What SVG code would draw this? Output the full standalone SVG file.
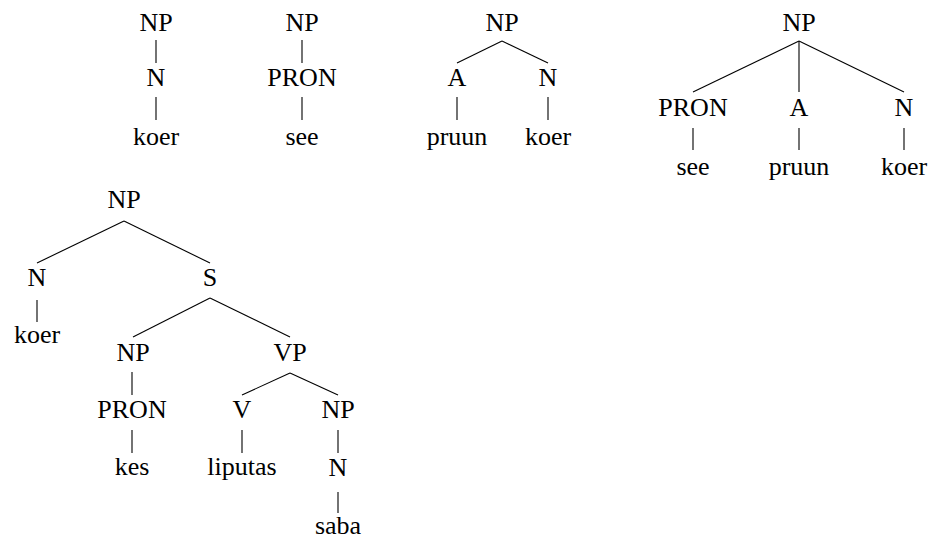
<svg xmlns="http://www.w3.org/2000/svg" width="932" height="539" viewBox="0 0 932 539">
  <rect width="932" height="539" fill="#fff"/>

  <!-- connectors for all five trees -->
  <g id="connectors" stroke="#000" stroke-width="1.1">
    <!-- tree 1 -->
    <line x1="156" y1="40" x2="156" y2="63"/>
    <line x1="156" y1="97" x2="156" y2="120"/>
    <!-- tree 2 -->
    <line x1="302" y1="40" x2="302" y2="63"/>
    <line x1="302" y1="97" x2="302" y2="120"/>
    <!-- tree 3 -->
    <line x1="502" y1="41" x2="457" y2="63"/>
    <line x1="502" y1="41" x2="548" y2="63"/>
    <line x1="457" y1="97" x2="457" y2="120"/>
    <line x1="548" y1="97" x2="548" y2="120"/>
    <!-- tree 4 -->
    <line x1="799" y1="41" x2="693" y2="92"/>
    <line x1="799" y1="41" x2="799" y2="92"/>
    <line x1="799" y1="41" x2="904" y2="92"/>
    <line x1="693" y1="128" x2="693" y2="150"/>
    <line x1="799" y1="128" x2="799" y2="150"/>
    <line x1="904" y1="128" x2="904" y2="150"/>
    <!-- tree 5 -->
    <line x1="124" y1="221" x2="37" y2="263"/>
    <line x1="124" y1="221" x2="210" y2="263"/>
    <line x1="37" y1="300" x2="37" y2="322"/>
    <line x1="210" y1="298" x2="133" y2="337"/>
    <line x1="210" y1="298" x2="290" y2="337"/>
    <line x1="132" y1="372" x2="132" y2="395"/>
    <line x1="290" y1="373" x2="242" y2="395"/>
    <line x1="290" y1="373" x2="338" y2="395"/>
    <line x1="132" y1="430" x2="132" y2="453"/>
    <line x1="242" y1="430" x2="242" y2="453"/>
    <line x1="338" y1="430" x2="338" y2="453"/>
    <line x1="338" y1="492" x2="338" y2="513"/>
  </g>

  <!-- tree 1: NP -> N -> koer -->
  <g id="t1-np"><text x="156" y="31" style="font-family:'Liberation Serif',serif;font-size:26px" text-anchor="middle">NP</text></g>
  <g id="t1-n"><text x="156" y="86" style="font-family:'Liberation Serif',serif;font-size:26px" text-anchor="middle">N</text></g>
  <g id="t1-koer"><text x="156" y="145" style="font-family:'Liberation Serif',serif;font-size:26px" text-anchor="middle">koer</text></g>

  <!-- tree 2: NP -> PRON -> see -->
  <g id="t2-np"><text x="302" y="31" style="font-family:'Liberation Serif',serif;font-size:26px" text-anchor="middle">NP</text></g>
  <g id="t2-pron"><text x="302" y="86" style="font-family:'Liberation Serif',serif;font-size:26px" text-anchor="middle">PRON</text></g>
  <g id="t2-see"><text x="302" y="145" style="font-family:'Liberation Serif',serif;font-size:26px" text-anchor="middle">see</text></g>

  <!-- tree 3: NP -> A N -->
  <g id="t3-np"><text x="502" y="31" style="font-family:'Liberation Serif',serif;font-size:26px" text-anchor="middle">NP</text></g>
  <g id="t3-a"><text x="457" y="86" style="font-family:'Liberation Serif',serif;font-size:26px" text-anchor="middle">A</text></g>
  <g id="t3-n"><text x="548" y="86" style="font-family:'Liberation Serif',serif;font-size:26px" text-anchor="middle">N</text></g>
  <g id="t3-pruun"><text x="457" y="145" style="font-family:'Liberation Serif',serif;font-size:26px" text-anchor="middle">pruun</text></g>
  <g id="t3-koer"><text x="548" y="145" style="font-family:'Liberation Serif',serif;font-size:26px" text-anchor="middle">koer</text></g>

  <!-- tree 4: NP -> PRON A N -->
  <g id="t4-np"><text x="799" y="31" style="font-family:'Liberation Serif',serif;font-size:26px" text-anchor="middle">NP</text></g>
  <g id="t4-pron"><text x="693" y="116" style="font-family:'Liberation Serif',serif;font-size:26px" text-anchor="middle">PRON</text></g>
  <g id="t4-a"><text x="799" y="116" style="font-family:'Liberation Serif',serif;font-size:26px" text-anchor="middle">A</text></g>
  <g id="t4-n"><text x="904" y="116" style="font-family:'Liberation Serif',serif;font-size:26px" text-anchor="middle">N</text></g>
  <g id="t4-see"><text x="693" y="175" style="font-family:'Liberation Serif',serif;font-size:26px" text-anchor="middle">see</text></g>
  <g id="t4-pruun"><text x="799" y="175" style="font-family:'Liberation Serif',serif;font-size:26px" text-anchor="middle">pruun</text></g>
  <g id="t4-koer"><text x="904" y="175" style="font-family:'Liberation Serif',serif;font-size:26px" text-anchor="middle">koer</text></g>

  <!-- tree 5: NP -> N S, with relative clause -->
  <g id="t5-np"><text x="124" y="208" style="font-family:'Liberation Serif',serif;font-size:26px" text-anchor="middle">NP</text></g>
  <g id="t5-n"><text x="37" y="286" style="font-family:'Liberation Serif',serif;font-size:26px" text-anchor="middle">N</text></g>
  <g id="t5-s"><text x="210" y="286" style="font-family:'Liberation Serif',serif;font-size:26px" text-anchor="middle">S</text></g>
  <g id="t5-koer"><text x="37" y="343" style="font-family:'Liberation Serif',serif;font-size:26px" text-anchor="middle">koer</text></g>
  <g id="t5-s-np"><text x="133" y="361" style="font-family:'Liberation Serif',serif;font-size:26px" text-anchor="middle">NP</text></g>
  <g id="t5-vp"><text x="290" y="361" style="font-family:'Liberation Serif',serif;font-size:26px" text-anchor="middle">VP</text></g>
  <g id="t5-pron"><text x="132" y="418" style="font-family:'Liberation Serif',serif;font-size:26px" text-anchor="middle">PRON</text></g>
  <g id="t5-v"><text x="242" y="418" style="font-family:'Liberation Serif',serif;font-size:26px" text-anchor="middle">V</text></g>
  <g id="t5-vp-np"><text x="338" y="418" style="font-family:'Liberation Serif',serif;font-size:26px" text-anchor="middle">NP</text></g>
  <g id="t5-kes"><text x="132" y="475" style="font-family:'Liberation Serif',serif;font-size:26px" text-anchor="middle">kes</text></g>
  <g id="t5-liputas"><text x="242" y="475" style="font-family:'Liberation Serif',serif;font-size:26px" text-anchor="middle">liputas</text></g>
  <g id="t5-vp-n"><text x="338" y="476" style="font-family:'Liberation Serif',serif;font-size:26px" text-anchor="middle">N</text></g>
  <g id="t5-saba"><text x="338" y="534" style="font-family:'Liberation Serif',serif;font-size:26px" text-anchor="middle">saba</text></g>
</svg>
